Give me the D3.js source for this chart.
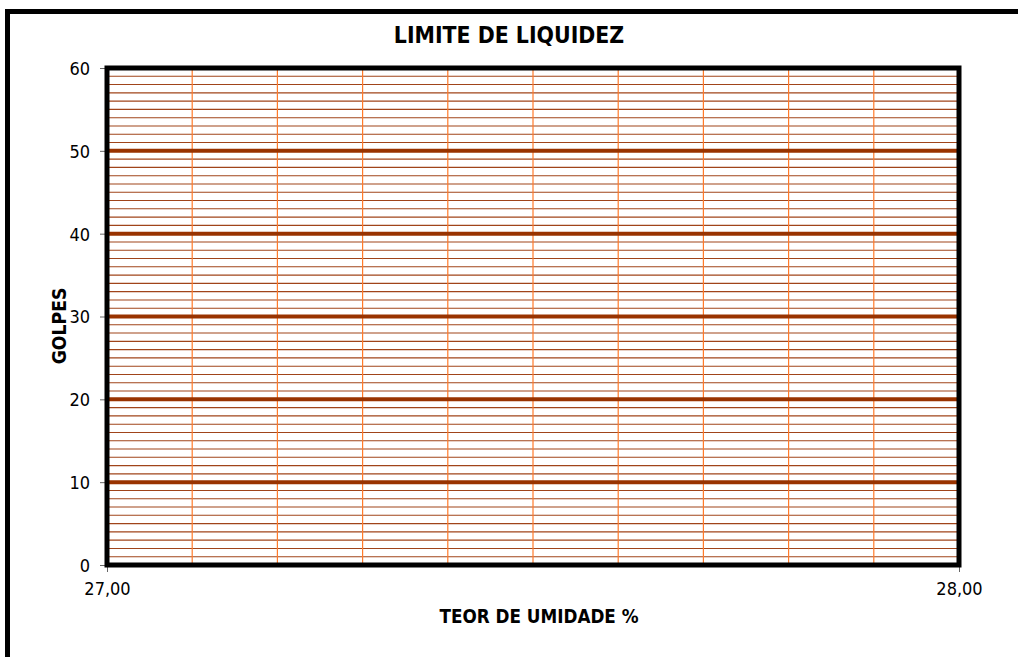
<!DOCTYPE html>
<html>
<head>
<meta charset="utf-8">
<script src="https://cdn.jsdelivr.net/npm/d3@7"></script>
<style>
  body { margin: 0; background: #fff; }
  text { font-family: "DejaVu Sans Condensed", "DejaVu Sans", sans-serif; font-stretch: condensed; fill: #000; }
</style>
</head>
<body>
<div id="chart"></div>
<script>
// chart data
const chartTitle = "LIMITE DE LIQUIDEZ";
const xLabel = "TEOR DE UMIDADE %";
const yLabel = "GOLPES";
const xDomain = [27, 28];
const yDomain = [0, 60];
const xTickValues = [27, 28];
const yTickValues = [0, 10, 20, 30, 40, 50, 60];

const W = 1018, H = 657;
const margin = {top: 68, right: 59, bottom: 92, left: 107};
const width = W - margin.left - margin.right,
      height = H - margin.top - margin.bottom;

const svg = d3.select("#chart").append("svg").attr("width", W).attr("height", H);

// outer frame (runs off the right and bottom edge)
svg.append("rect").attr("x", 7.5).attr("y", 11.5).attr("width", W + 20).attr("height", H + 20)
    .attr("fill", "none").attr("stroke", "#000").attr("stroke-width", 5);

const g = svg.append("g").attr("transform", "translate(" + margin.left + "," + margin.top + ")");

const x = d3.scaleLinear().domain(xDomain).range([0, width]);
const y = d3.scaleLinear().domain(yDomain).range([height, 0]);

// minor horizontal grid, 1 unit
g.append("g").selectAll("line").data(y.ticks(60)).enter().append("line")
    .attr("x1", 0).attr("x2", width)
    .attr("y1", function(d) { return y(d); }).attr("y2", function(d) { return y(d); })
    .attr("stroke", "#a0441a").attr("stroke-width", 1.1);

// vertical grid, 0.1 step
g.append("g").selectAll("line").data(x.ticks(10)).enter().append("line")
    .attr("x1", function(d) { return x(d); }).attr("x2", function(d) { return x(d); })
    .attr("y1", 0).attr("y2", height)
    .attr("stroke", "#ff7a2a").attr("stroke-width", 1.2);

// major horizontal grid
g.append("g").selectAll("line").data(yTickValues.slice(1, -1)).enter().append("line")
    .attr("x1", 0).attr("x2", width)
    .attr("y1", function(d) { return y(d); }).attr("y2", function(d) { return y(d); })
    .attr("stroke", "#993300").attr("stroke-width", 4);

// axes
const yAxis = g.append("g").call(d3.axisLeft(y).tickValues(yTickValues).tickSize(7).tickPadding(10));
const xAxis = g.append("g").attr("transform", "translate(0," + height + ")")
    .call(d3.axisBottom(x).tickValues(xTickValues).tickSize(7)
    .tickFormat(function(d) { return d3.format(".2f")(d).replace(".", ","); }));
[yAxis, xAxis].forEach(function(a) {
    a.attr("font-family", null).attr("font-size", null);
    a.select(".domain").remove();
    a.selectAll(".tick line").attr("stroke", "#666");
    a.selectAll("text").attr("font-size", 18);
});
yAxis.selectAll("text").attr("dy", "0.36em");
xAxis.selectAll("text").attr("y", 30).attr("dy", 0);

// plot border
g.append("rect").attr("x", 0).attr("y", 0).attr("width", width).attr("height", height)
    .attr("fill", "none").attr("stroke", "#000").attr("stroke-width", 5);

// texts
svg.append("text").attr("x", 509).attr("y", 43).attr("text-anchor", "middle")
    .attr("font-size", 22.8).attr("font-weight", "bold").text(chartTitle);
svg.append("text").attr("x", 539).attr("y", 623).attr("text-anchor", "middle")
    .attr("font-size", 18.7).attr("font-weight", "bold").text(xLabel);
svg.append("text").attr("transform", "translate(66,326) rotate(-90)").attr("text-anchor", "middle")
    .attr("font-size", 19.2).attr("font-weight", "bold").text(yLabel);
</script>
</body>
</html>
